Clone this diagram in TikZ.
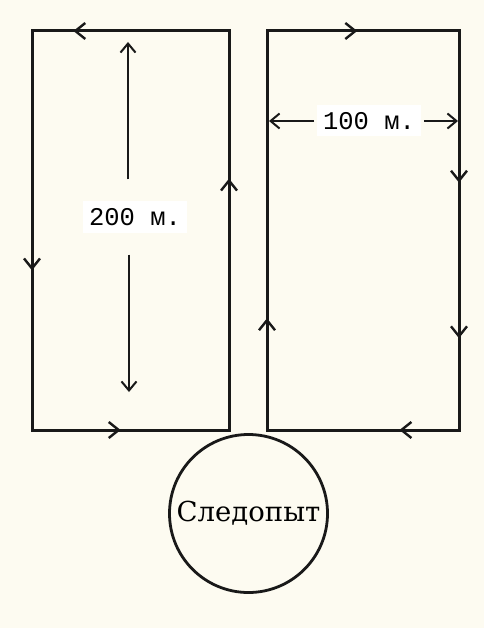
\documentclass[tikz,border=0pt]{standalone}
\usepackage{fontspec}
\newfontfamily\dimfont{Liberation Mono}
\newfontfamily\namefont{DejaVu Serif}
\usetikzlibrary{arrows.meta, decorations.markings, calc}
\definecolor{paper}{RGB}{253,251,241}
\definecolor{ink}{RGB}{25,25,25}

\begin{document}
\begin{tikzpicture}[
    x=1pt, y=-1pt,
    route/.style={draw=ink, line width=3pt, line cap=rect},
    flow/.style={postaction={decorate, decoration={markings,
                 mark=at position #1 with {\arrow{Straight Barb[length=10pt, width=16pt, line width=2.4pt]}}}}},
    dim/.style={-{Straight Barb[length=9pt, width=15pt, line width=2pt]}, line width=1.5pt, ink},
    dimlabel/.style={fill=white, font=\dimfont\fontsize{25.5}{25.5}\selectfont,
                     inner xsep=6pt, minimum height=31pt},
    camp/.style={circle, draw=ink, line width=2.8pt, minimum size=158pt,
                 inner sep=0pt, font=\namefont\fontsize{27.5}{27.5}\selectfont}
]

% Paper
\fill[paper] (0,0) rectangle (484,628);

% Corners of the two loops
\coordinate (LTL) at (32,31);
\coordinate (LTR) at (229,31);
\coordinate (LBR) at (229,430);
\coordinate (LBL) at (32,430);
\coordinate (RTL) at (267,31);
\coordinate (RTR) at (459,31);
\coordinate (RBR) at (459,430);
\coordinate (RBL) at (267,430);

% Left loop (anticlockwise on the page)
\draw[route, flow=0.63] (LBR) -- (LTR);
\draw[route, flow=0.79] (LTR) -- (LTL);
\draw[route, flow=0.6]  (LTL) -- (LBL);
\draw[route, flow=0.45] (LBL) -- (LBR);

% Right loop (clockwise on the page)
\draw[route, flow=0.28] (RBL) -- (RTL);
\draw[route, flow=0.47] (RTL) -- (RTR);
\draw[route, flow=0.38, flow=0.77] (RTR) -- (RBR);
\draw[route, flow=0.31] (RBR) -- (RBL);

% Start point
\node[camp] (scout) at (248.5,513.5) {Следопыт};

% 200 m dimension
\coordinate (htop) at (128,42);
\coordinate (hbot) at (129,392);
\node[dimlabel, outer ysep=22pt] (len200) at (135,217) {200 м.};
\draw[dim] (len200.north -| htop) -- (htop);
\draw[dim] (len200.south -| hbot) -- (hbot);

% 100 m dimension
\coordinate (wleft) at (269,121);
\coordinate (wright) at (458,121);
\node[dimlabel, outer xsep=3pt] (len100) at (369,121) {100 м.};
\draw[dim] (len100.west) -- (wleft);
\draw[dim] (len100.east) -- (wright);

\end{tikzpicture}
\end{document}
